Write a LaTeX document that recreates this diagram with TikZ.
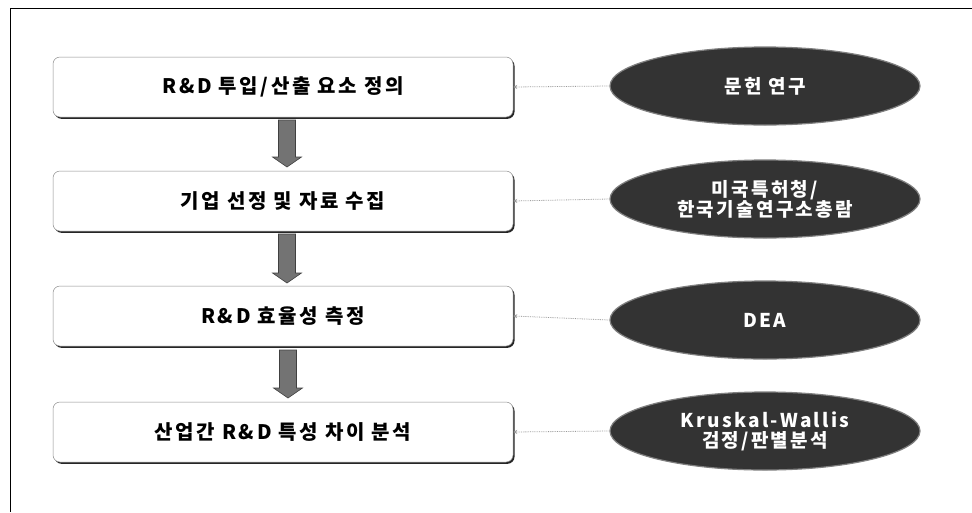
\documentclass[tikz,border=0pt]{standalone}
\usepackage{fontspec}
\setmainfont{Noto Sans CJK KR}
\usetikzlibrary{shapes.geometric,arrows.meta}
\tikzset{
  stepbox/.style={draw=black!45, line width=0.5pt, fill=white, rounded corners=7pt,
    minimum width=460pt, minimum height=60pt, inner sep=0pt,
    font=\fontsize{20}{22}\selectfont\bfseries\addfontfeatures{LetterSpace=13}},
  shadowbox/.style={fill=black!85, rounded corners=7pt, minimum width=460pt, minimum height=60pt, inner sep=0pt},
  srcell/.style={ellipse, fill=black!80, draw=black!50, line width=1.2pt, minimum width=310pt, minimum height=78pt,
    inner sep=0pt, text=white, align=center,
    font=\fontsize{19}{20}\selectfont\bfseries\addfontfeatures{LetterSpace=12}},
  flowarrow/.style={draw=black!75, fill=black!55, line width=0.6pt},
  link/.style={draw=black!40, line width=0.8pt, densely dotted, {Stealth[length=4pt,width=4pt]}-}
}
\newcommand{\downarrowshape}[3]{% x, ytop, ybottom
  \filldraw[flowarrow] (#1-8.5,#2) -- (#1+8.5,#2) -- (#1+8.5,#3-10) -- (#1+14.5,#3-10)
    -- (#1,#3) -- (#1-14.5,#3-10) -- (#1-8.5,#3-10) -- cycle;}
\begin{document}
\begin{tikzpicture}[x=1pt,y=-1pt]
\useasboundingbox (0,0) rectangle (972,512);
\fill[white] (0,0) rectangle (972,512);
\draw[black, line width=1pt] (972,8) -- (10,8) -- (10,512);
% shadows
\foreach \yy in {87,201,316,432}{
  \node[shadowbox] at (284.5,\yy+1.8) {};
}
\node[stepbox] (b1) at (283,87) {R\&D 투입/산출 요소 정의};
\node[stepbox] (b2) at (283,201) {기업 선정 및 자료 수집};
\node[stepbox] (b3) at (283,316) {R\&D 효율성 측정};
\node[stepbox] (b4) at (283,432) {산업간 R\&D 특성 차이 분석};
\node[srcell] (e1) at (765,86) {문헌 연구};
\node[srcell] (e2) at (765,199) {미국특허청/\\한국기술연구소총람};
\node[srcell] (e3) at (765,320) {DEA};
\node[srcell] (e4) at (765,431) {Kruskal-Wallis\\검정/판별분석};
\downarrowshape{287}{120}{167}
\downarrowshape{287}{234}{283}
\downarrowshape{288}{350}{398}
\draw[link] (b1.east) -- (e1.west);
\draw[link] (b2.east) -- (e2.west);
\draw[link] (b3.east) -- (e3.west);
\draw[link] (b4.east) -- (e4.west);
\end{tikzpicture}
\end{document}
